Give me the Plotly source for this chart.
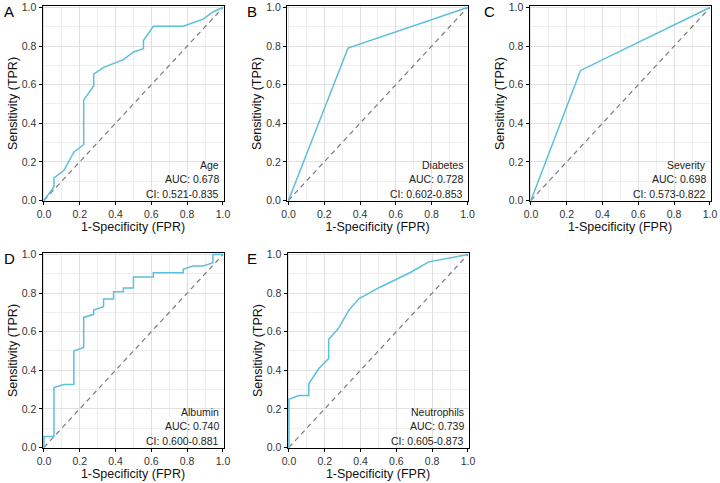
import plotly.graph_objects as go

# ---------------- data ----------------
panel_letters = ["A", "B", "C", "D", "E"]
names = ["Age", "Diabetes", "Severity", "Albumin", "Neutrophils"]
auc_text = ["AUC: 0.678", "AUC: 0.728", "AUC: 0.698", "AUC: 0.740", "AUC: 0.739"]
ci_text = ["CI: 0.521-0.835", "CI: 0.602-0.853", "CI: 0.573-0.822", "CI: 0.600-0.881", "CI: 0.605-0.873"]

age_fpr = [0, 0.056, 0.056, 0.111, 0.167, 0.222, 0.222, 0.278, 0.278, 0.333, 0.444, 0.5, 0.556, 0.556, 0.611, 0.778, 0.889, 0.944, 1.0]
age_tpr = [0, 0.07, 0.117, 0.155, 0.25, 0.29, 0.52, 0.595, 0.655, 0.69, 0.73, 0.77, 0.786, 0.829, 0.903, 0.903, 0.94, 0.977, 1.0]

diab_fpr = [0, 0.333, 1.0]
diab_tpr = [0, 0.79, 1.0]

sev_fpr = [0, 0.277, 1.0]
sev_tpr = [0, 0.674, 1.0]

alb_fpr = [0, 0, 0.056, 0.056, 0.111, 0.167, 0.167, 0.222, 0.222, 0.278, 0.278, 0.333, 0.333, 0.389, 0.389,
           0.444, 0.444, 0.5, 0.5, 0.611, 0.611, 0.778, 0.778, 0.833, 0.889, 0.944, 0.944, 1.0]
alb_tpr = [0, 0.057, 0.057, 0.311, 0.326, 0.326, 0.50, 0.518, 0.674, 0.69, 0.712, 0.729, 0.769, 0.769, 0.807,
           0.807, 0.827, 0.827, 0.884, 0.884, 0.905, 0.905, 0.924, 0.941, 0.941, 0.958, 1.0, 1.0]

neu_fpr = [0, 0, 0.056, 0.111, 0.111, 0.167, 0.222, 0.222, 0.275, 0.335, 0.392, 0.511, 0.678, 0.781, 1.0]
neu_tpr = [0, 0.25, 0.269, 0.269, 0.33, 0.409, 0.461, 0.561, 0.615, 0.712, 0.772, 0.832, 0.907, 0.962, 1.0]

fprs = [age_fpr, diab_fpr, sev_fpr, alb_fpr, neu_fpr]
tprs = [age_tpr, diab_tpr, sev_tpr, alb_tpr, neu_tpr]

tick_vals = [0, 0.2, 0.4, 0.6, 0.8, 1.0]
tick_text = ["0.0", "0.2", "0.4", "0.6", "0.8", "1.0"]
diag = [0, 1]

# ---------------- layout ----------------
W, H = 720, 483
# pixel boxes (left, right, top, bottom) of each panel
boxes = [(42.5, 223.5, 6, 201), (287, 468, 6, 201), (529.5, 710.5, 6, 201),
         (42.5, 223.5, 253, 448), (287.5, 468.5, 253, 448)]
letter_pos = [(9, 11), (252, 11), (489, 11), (9, 258), (252, 258)]

FONT = "Liberation Sans, Arial, sans-serif"
CURVE = "#5BBFDD"

fig = go.Figure()
for i in range(5):
    ax = "" if i == 0 else str(i + 1)
    xa, ya = "x" + ax, "y" + ax
    fig.add_trace(go.Scatter(x=diag, y=diag, mode="lines", xaxis=xa, yaxis=ya,
                             line=dict(color="#7a7a7a", width=1.2, dash="5px,4px"),
                             showlegend=False, hoverinfo="skip"))
    fig.add_trace(go.Scatter(x=fprs[i], y=tprs[i], mode="lines", xaxis=xa, yaxis=ya,
                             line=dict(color=CURVE, width=1.5),
                             showlegend=False, name=names[i]))
    l, r, t, b = boxes[i]
    common = dict(showline=True, linecolor="black", linewidth=1, mirror=True,
                  ticks="outside", ticklen=3, tickwidth=1, tickcolor="black",
                  tickvals=tick_vals, ticktext=tick_text,
                  tickfont=dict(family=FONT, size=10.5, color="#333333"),
                  showgrid=True, gridcolor="#e0e0e0", gridwidth=1.2,
                  minor=dict(showgrid=True, gridcolor="#efefef", gridwidth=0.8, dtick=0.1),
                  zeroline=False, automargin=False)
    fig.layout["xaxis" + ax] = dict(domain=[l / W, r / W], range=[-0.008, 1.003], anchor=ya,
                                    title=dict(text="1-Specificity (FPR)", standoff=2,
                                               font=dict(family=FONT, size=12.5, color="#111")),
                                    **common)
    fig.layout["yaxis" + ax] = dict(domain=[1 - b / H, 1 - t / H], range=[-0.003, 1.008], anchor=xa,
                                    title=dict(text="Sensitivity (TPR)", standoff=1,
                                               font=dict(family=FONT, size=12.5, color="#111")),
                                    **common)
    for j, (txt, yv) in enumerate([(names[i], 0.187), (auc_text[i], 0.112), (ci_text[i], 0.037)]):
        fig.add_annotation(text=txt, xref=xa + " domain", yref=ya + " domain",
                           x=0.985, y=yv, xanchor="right", yanchor="middle", showarrow=False,
                           font=dict(family=FONT, size=10.5, color="#222"))
    lx, ly = letter_pos[i]
    fig.add_annotation(text=panel_letters[i], xref="paper", yref="paper",
                       x=lx / W, y=1 - ly / H, xanchor="center", yanchor="middle",
                       showarrow=False, font=dict(family=FONT, size=15, color="black"))

fig.update_layout(width=W, height=H, margin=dict(l=0, r=0, t=0, b=0),
                  paper_bgcolor="white", plot_bgcolor="white")
# remove the browser's default 8px page margin so the figure fills the window
fig.write_html("out.html", config={"displayModeBar": False},
               post_script="document.body.style.margin='0';")
